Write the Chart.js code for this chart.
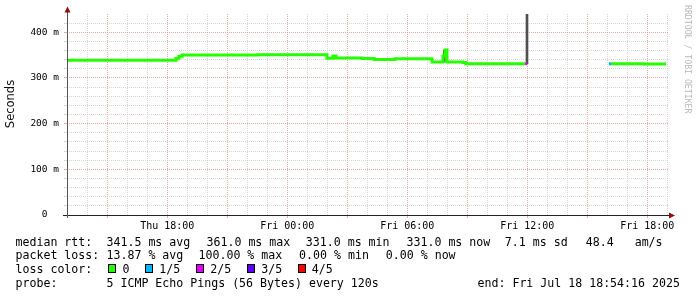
<!DOCTYPE html>
<html>
<head>
<meta charset="utf-8">
<script src="https://cdn.jsdelivr.net/npm/chart.js@4.4.1/dist/chart.umd.min.js"></script>
<style>
  html, body { margin: 0; padding: 0; background: #fff; }
  canvas { display: block; }
</style>
</head>
<body>
<canvas id="js-smoke-chart" width="697" height="297"></canvas>
<script>
"use strict";
{
  // median rtt (ms), x = hours since Thu 00:00, stepped line
  const MEDIAN_HOURS = [12.985, 18.435, 18.585, 18.735, 22.535, 25.985, 26.285, 26.435, 27.735, 28.335, 29.385,
    31.235, 31.785, 31.885, 31.985, 32.785, 32.935, 35.9, 35.985, 36.0, 40.085, 40.185, 41.835, 42.935];
  const MEDIAN_RTT = [339, 343, 347, 350, 351, 343, 348, 343.5, 342.5, 340.5, 342,
    335, 348, 361, 335, 334, 331, 331, 331, null, 331, 331, 330.5, 330.5];
  // lost pings (of 5) for each step
  const MEDIAN_LOSS = [0, 0, 0, 0, 0, 0, 0, 0, 0, 0, 0,
    0, 0, 0, 0, 0, 0, 2, 2, 0, 1, 0, 0, 0];

  // smoke (spread of the pings)
  const SMOKE_HOURS = [31.85, 35.985];
  const SMOKE_LOW = [335, 331];
  const SMOKE_HIGH = [361, 440];

  const LOSS_COLORS = ["#26ff00", "#00b8ff", "#dd00ff", "#5e00ff", "#ff0000"];
  const LOSS_LABELS = ["0", "1/5", "2/5", "3/5", "4/5"];

  const X_TICK_HOURS = [18, 24, 30, 36, 42];
  const X_TICK_LABELS = ["Thu 18:00", "Fri 00:00", "Fri 06:00", "Fri 12:00", "Fri 18:00"];
  const Y_TICK_VALUES = [0, 100, 200, 300, 400];
  const Y_TICK_LABELS = ["0  ", "100 m", "200 m", "300 m", "400 m"];

  const LEGEND_ROWS = [
    [[16, "median rtt:"], [107, "341.5 ms avg"], [207, "361.0 ms max"], [306.3, "331.0 ms min"],
      [407, "331.0 ms now"], [505.3, "7.1 ms sd"], [586.3, "48.4   am/s"]],
    [[16, "packet loss:"], [107, "13.87 % avg"], [199, "100.00 % max"], [299.6, "0.00 % min"],
      [386.3, "0.00 % now"]],
    [[16, "loss color:"]],
    [[16, "probe:"], [107, "5 ICMP Echo Pings (56 Bytes) every 120s"], [478, "end: Fri Jul 18 18:54:16 2025"]],
  ];
  const LOSS_BOX_X = [108.5, 145.5, 196.5, 247.5, 298.5];
  const LOSS_TEXT_X = [123, 159.7, 210.7, 261.7, 312.3];

  const MAJOR = "rgba(226,150,150,0.8)";
  const MINOR = "rgba(200,200,200,0.75)";
  const MONO = "'DejaVu Sans Mono', monospace";

  const rrdDecor = {
    id: "rrdDecor",
    beforeDraw(chart) {
      const c = chart.ctx;
      c.save();
      c.fillStyle = "#fff";
      c.fillRect(0, 0, chart.width, chart.height);
      c.restore();
    },
    afterDraw(chart) {
      const c = chart.ctx;
      const area = chart.chartArea;
      c.save();
      // axes
      c.lineWidth = 1;
      c.strokeStyle = "#222";
      c.beginPath();
      c.moveTo(63, area.bottom + 0.5);
      c.lineTo(669, area.bottom + 0.5);
      c.stroke();
      c.strokeStyle = "#555";
      c.beginPath();
      c.moveTo(area.left + 0.5, area.bottom + 3);
      c.lineTo(area.left + 0.5, 10);
      c.stroke();
      // arrows
      c.fillStyle = "#8b1010";
      c.beginPath();
      c.moveTo(669, area.bottom - 2.5);
      c.lineTo(675, area.bottom + 0.5);
      c.lineTo(669, area.bottom + 3.5);
      c.closePath();
      c.fill();
      c.beginPath();
      c.moveTo(area.left - 2.5, 12.5);
      c.lineTo(area.left + 0.5, 6.5);
      c.lineTo(area.left + 3.5, 12.5);
      c.closePath();
      c.fill();

      // y title
      c.fillStyle = "#111";
      c.font = "11.5px 'DejaVu Sans', sans-serif";
      c.textAlign = "center";
      c.textBaseline = "middle";
      c.save();
      c.translate(11, 104);
      c.rotate(-Math.PI / 2);
      c.fillText("Seconds", 0, 0);
      c.restore();

      // watermark
      c.fillStyle = "#b8b8b8";
      c.font = "8.2px " + MONO;
      c.textAlign = "left";
      c.save();
      c.translate(687, 5);
      c.rotate(Math.PI / 2);
      c.fillText("RRDTOOL / TOBI OETIKER", 0, 0);
      c.restore();

      // legend
      c.fillStyle = "#000";
      c.font = "11.6px " + MONO;
      c.textBaseline = "alphabetic";
      LEGEND_ROWS.forEach((row, r) => {
        const y = 245.5 + r * 13.8;
        row.forEach(([x, t]) => c.fillText(t, x - 0.5, y));
      });
      const boxY = 264.5;
      LOSS_COLORS.forEach((col, i) => {
        c.fillStyle = col;
        c.fillRect(LOSS_BOX_X[i], boxY, 7, 8);
        c.strokeStyle = "#000";
        c.strokeRect(LOSS_BOX_X[i], boxY, 7, 8);
        c.fillStyle = "#000";
        c.fillText(LOSS_LABELS[i], LOSS_TEXT_X[i] - 0.5, 245.5 + 2 * 13.8);
      });
      c.restore();
    },
  };

  const ctx = document.getElementById("js-smoke-chart").getContext("2d");
  new Chart(ctx, {
    type: "line",
    data: {
      datasets: [
        {
          type: "bar",
          data: SMOKE_HOURS.map((h, i) => ({ x: h, y: [SMOKE_LOW[i], SMOKE_HIGH[i]] })),
          backgroundColor: "#505050",
          barThickness: 2,
          order: 2,
        },
        {
          type: "line",
          data: MEDIAN_HOURS.map((h, i) => ({ x: h, y: MEDIAN_RTT[i] })),
          borderColor: LOSS_COLORS[0],
          borderWidth: 3,
          stepped: true,
          pointRadius: 0,
          spanGaps: false,
          segment: {
            borderColor: (s) => LOSS_COLORS[MEDIAN_LOSS[s.p0DataIndex]],
          },
          order: 1,
        },
      ],
    },
    options: {
      responsive: false,
      animation: false,
      devicePixelRatio: 1,
      layout: { padding: { top: 14, right: 29, left: 0, bottom: 0 } },
      scales: {
        x: {
          type: "linear",
          min: 12.985,
          max: 43.035,
          offset: false,
          afterBuildTicks: (axis) => {
            const t = [];
            for (let h = 13; h <= 43; h++) t.push({ value: h });
            axis.ticks = t;
          },
          afterFit: (axis) => {
            axis.height = 82;
          },
          grid: {
            offset: false,
            color: (c) => (c.tick.value % 3 === 0 ? MAJOR : MINOR),
            tickColor: (c) => (c.tick.value % 3 === 0 ? MAJOR : "rgba(0,0,0,0)"),
            tickLength: 3,
          },
          border: { display: false, dash: [1, 1] },
          ticks: {
            autoSkip: false,
            maxRotation: 0,
            minRotation: 0,
            padding: 2,
            color: "#000",
            font: { family: MONO, size: 10 },
            callback: (v) => {
              const i = X_TICK_HOURS.indexOf(v);
              return i >= 0 ? X_TICK_LABELS[i] : "";
            },
          },
        },
        y: {
          type: "linear",
          min: 0,
          max: 440,
          afterBuildTicks: (axis) => {
            const t = [];
            for (let v = 0; v <= 420; v += 20) t.push({ value: v });
            axis.ticks = t;
          },
          afterFit: (axis) => {
            axis.width = 67;
          },
          grid: {
            color: (c) => (c.tick.value % 100 === 0 ? MAJOR : MINOR),
            tickLength: 3,
          },
          border: { display: false, dash: [1, 1] },
          ticks: {
            autoSkip: false,
            padding: 5,
            color: "#000",
            font: { family: MONO, size: 9.5 },
            callback: (v) => {
              const i = Y_TICK_VALUES.indexOf(v);
              return i >= 0 ? Y_TICK_LABELS[i] : "";
            },
          },
        },
      },
      plugins: {
        legend: { display: false },
        tooltip: { enabled: false },
      },
    },
    plugins: [rrdDecor],
  });
}
</script>
</body>
</html>
